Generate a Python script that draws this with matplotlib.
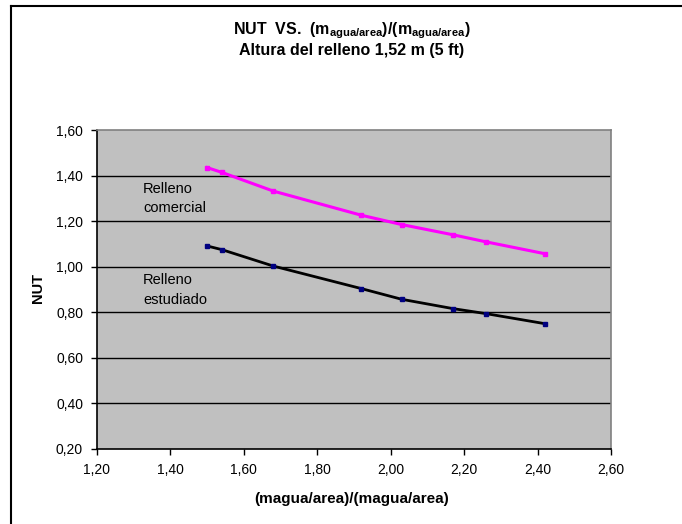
#!/usr/bin/env python
"""
NUT vs. (m agua/area)/(m agua/area) for a 1,52 m (5 ft) fill height
"""

import matplotlib
matplotlib.use("Agg")
import matplotlib.pyplot as plt
from matplotlib.lines import Line2D
from matplotlib.ticker import FuncFormatter

plt.rcParams['font.family'] = ['Liberation Sans', 'DejaVu Sans']
plt.rcParams['mathtext.fontset'] = 'custom'
plt.rcParams['mathtext.rm'] = 'Liberation Sans'
plt.rcParams['mathtext.bf'] = 'Liberation Sans:bold'

# water mass ratio (x values shared by both fills)
ratio = [1.50, 1.54, 1.68, 1.92, 2.03, 2.17, 2.26, 2.42]

# NUT for the commercial and for the studied fill
nut_comercial = [1.435, 1.414, 1.332, 1.226, 1.185, 1.140, 1.109, 1.057]
nut_estudiado = [1.091, 1.075, 1.003, 0.904, 0.857, 0.816, 0.794, 0.750]

x_ticks = [1.20, 1.40, 1.60, 1.80, 2.00, 2.20, 2.40, 2.60]
y_ticks = [0.20, 0.40, 0.60, 0.80, 1.00, 1.20, 1.40, 1.60]


def comma(value, pos):
    """
    Format tick values with a decimal comma
    """
    return "{:.2f}".format(value).replace(".", ",")


fig = plt.figure(figsize=(6.82, 5.24), dpi=100)
ax = fig.add_axes([97 / 682, 1 - 449 / 524, 514 / 682, 319 / 524])
ax.set_facecolor('#c0c0c0')

# horizontal grid lines
for y in y_ticks[1:-1]:
    ax.axhline(y, color='black', linewidth=1.0, zorder=1)

# the two series
ax.plot(ratio, nut_comercial, color='#ff00ff', linewidth=2.2,
        marker='s', markersize=2.2, markerfacecolor='#ff00ff',
        markeredgecolor='#ff00ff', zorder=3)
ax.plot(ratio, nut_estudiado, color='black', linewidth=2.0,
        marker='s', markersize=2.2, markerfacecolor='#000080',
        markeredgecolor='#000080', zorder=3)

ax.set_xlim(x_ticks[0], x_ticks[-1])
ax.set_ylim(y_ticks[0], y_ticks[-1])
ax.set_xticks(x_ticks)
ax.set_yticks(y_ticks)
ax.xaxis.set_major_formatter(FuncFormatter(comma))
ax.yaxis.set_major_formatter(FuncFormatter(comma))
ax.tick_params(direction='out', length=4, width=1, labelsize=10,
               colors='black', pad=6)

ax.spines['left'].set_color('black')
ax.spines['bottom'].set_color('black')
ax.spines['top'].set_color('#808080')
ax.spines['right'].set_color('#808080')
for side in ax.spines:
    ax.spines[side].set_linewidth(1.2)

# series labels inside the plot
ax.text(1.325, 1.30, "Relleno\ncomercial", fontsize=10.5, va='center',
        linespacing=1.5)
ax.text(1.325, 0.897, "Relleno\nestudiado", fontsize=10.5, va='center',
        linespacing=1.5)

# titles and axis labels
fig.text(352 / 682, 1 - 31 / 524,
         r"NUT  VS.  (m$_\mathbf{agua/area}$)/(m$_\mathbf{agua/area}$)",
         ha='center', va='center', fontsize=11.5, fontweight='bold')
fig.text(352 / 682, 1 - 51 / 524, "Altura del relleno 1,52 m (5 ft)",
         ha='center', va='center', fontsize=11.5, fontweight='bold')
fig.text(38 / 682, 1 - 288 / 524, "NUT", rotation=90, ha='center',
         va='center', fontsize=10.5, fontweight='bold')
fig.text(352 / 682, 1 - 499 / 524, "(magua/area)/(magua/area)",
         ha='center', va='center', fontsize=11, fontweight='bold')

# outer chart border (left and top only, the rest is cut off)
fig.add_artist(Line2D([10.5 / 682, 10.5 / 682], [0, 1 - 5.5 / 524],
                      transform=fig.transFigure, color='black', linewidth=1.5))
fig.add_artist(Line2D([10.5 / 682, 1], [1 - 5.5 / 524, 1 - 5.5 / 524],
                      transform=fig.transFigure, color='black', linewidth=1.5))

fig.savefig("out.png", dpi=100)
